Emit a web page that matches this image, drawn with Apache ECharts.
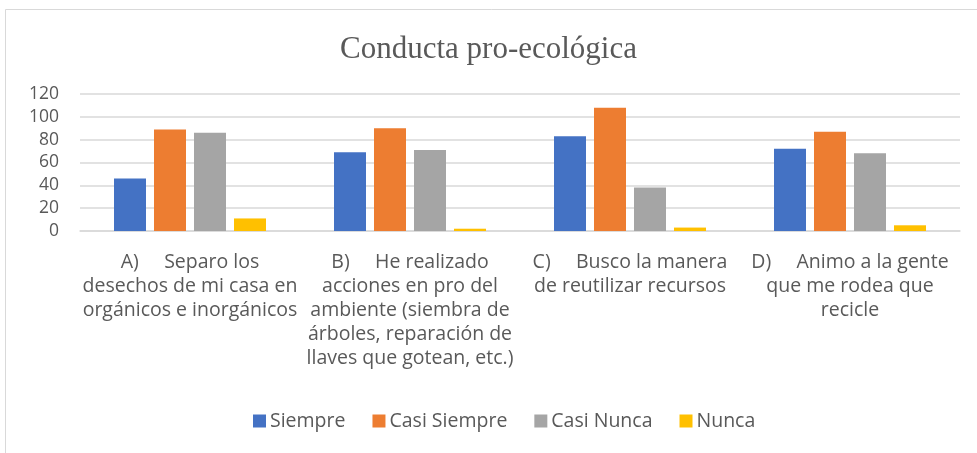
<!DOCTYPE html>
<html>
<head>
<meta charset="utf-8">
<script src="https://cdn.jsdelivr.net/npm/echarts@6/dist/echarts.min.js"></script>
<style>
  html, body { margin: 0; padding: 0; background: #fff; }
  #chart { width: 977px; height: 453px; }
</style>
</head>
<body>
<div id="chart"></div>
<script>
// categories (x axis) — wrapped like the original
const categories = [
  "A)     Separo los\ndesechos de mi casa en\norgánicos e inorgánicos",
  "B)     He realizado\nacciones en pro del\nambiente (siembra de\nárboles, reparación de\nllaves que gotean, etc.)",
  "C)     Busco la manera\nde reutilizar recursos",
  "D)     Animo a la gente\nque me rodea que\nrecicle"
];

// series values
const siempre = [46, 69, 83, 72];
const casiSiempre = [89, 90, 108, 87];
const casiNunca = [86, 71, 38, 68];
const nunca = [11, 2, 3, 5];

const seriesNames = ["Siempre", "Casi Siempre", "Casi Nunca", "Nunca"];
const colors = ["#4472C4", "#ED7D31", "#A5A5A5", "#FFC000"];

const chart = echarts.init(document.getElementById("chart"));

const textColor = "#595959";
const font = "Open Sans";

const option = {
  backgroundColor: "#ffffff",
  color: colors,
  animation: false,
  title: {
    text: "Conducta pro-ecológica",
    left: "center",
    top: 29,
    textStyle: {
      fontFamily: "Liberation Serif",
      fontSize: 31,
      fontWeight: "normal",
      color: textColor,
    },
  },
  graphic: [
    {
      type: "rect",
      shape: { x: 5.5, y: 9.5, width: 1000, height: 500 },
      style: { fill: "none", stroke: "#d9d9d9", lineWidth: 1 },
      silent: true,
    },
  ],
  legend: {
    bottom: 17,
    left: 248,
    padding: 5,
    itemWidth: 13,
    itemHeight: 13,
    itemGap: 27,
    icon: "rect",
    textStyle: {
      fontFamily: font,
      fontSize: 19.5,
      color: textColor,
      padding: [0, 0, 0, -1],
    },
    data: seriesNames,
  },
  grid: {
    left: 80,
    right: 17,
    top: 94,
    bottom: 222,
    containLabel: false,
  },
  xAxis: {
    type: "category",
    data: categories,
    axisLine: { lineStyle: { color: "#d9d9d9", width: 1.5 } },
    axisTick: { show: false },
    axisLabel: {
      interval: 0,
      margin: 19,
      fontFamily: font,
      fontSize: 19.5,
      lineHeight: 24,
      color: textColor,
      align: "center",
    },
  },
  yAxis: {
    type: "value",
    min: 0,
    max: 120,
    interval: 20,
    axisLine: { show: false },
    axisTick: { show: false },
    axisLabel: {
      fontFamily: font,
      fontSize: 17.5,
      color: textColor,
      margin: 21,
    },
    splitLine: { lineStyle: { color: "#d9d9d9", width: 1.5 } },
  },
  series: [
    { name: seriesNames[0], type: "bar", data: siempre, barWidth: 32, barGap: "25%" },
    { name: seriesNames[1], type: "bar", data: casiSiempre, barWidth: 32, barGap: "25%" },
    { name: seriesNames[2], type: "bar", data: casiNunca, barWidth: 32, barGap: "25%" },
    { name: seriesNames[3], type: "bar", data: nunca, barWidth: 32, barGap: "25%" },
  ],
};

chart.setOption(option);
</script>
</body>
</html>
